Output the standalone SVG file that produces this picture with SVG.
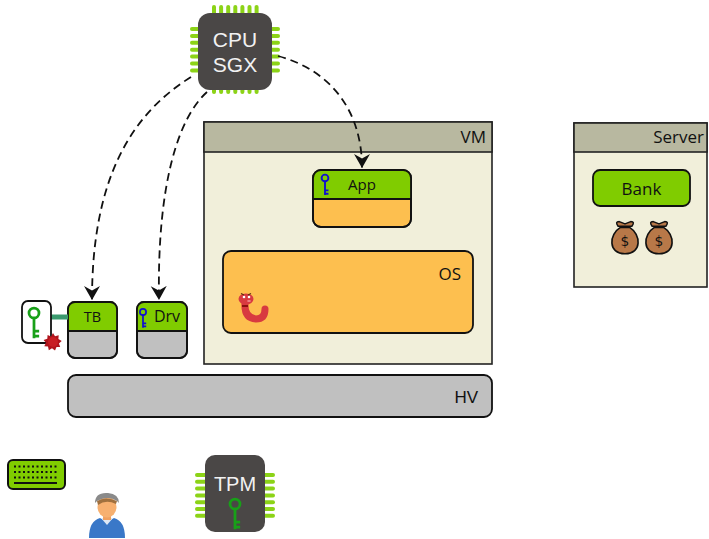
<svg xmlns="http://www.w3.org/2000/svg" width="709" height="539" viewBox="0 0 709 539">
  <style>
    .lbl { font-family: "Open Sans", "DejaVu Sans", sans-serif; fill: #111; }
    .box { stroke: #111; stroke-width: 1.8; }
    .frame { stroke: #222; stroke-width: 1.6; }
    .pin { fill: #8cd317; }
    .chip { fill: #4a4746; }
    .chiptxt { font-family: "Liberation Sans", Arial, sans-serif; fill: #f2f2f2; text-anchor: middle; }
    .conn { fill: none; stroke: #111; stroke-width: 1.8; stroke-dasharray: 8 5; }
  </style>
  <defs>
    <marker id="arrow" markerUnits="userSpaceOnUse" markerWidth="18" markerHeight="18" refX="14" refY="8" orient="auto">
      <path d="M0,0 L14,8 L0,16 L4.5,8 Z" fill="#111"/>
    </marker>
    <!-- key glyph: ring on top, stem with two teeth -->
    <g id="key" fill="none" stroke="currentColor" stroke-width="2.2" stroke-linecap="square">
      <circle cx="0" cy="0" r="4"/>
      <path d="M0,4 V19 M0,14.5 H3 M0,18.5 H3"/>
    </g>
    <rect id="pinV" x="-2" y="0" width="4" height="11" rx="2"/>
    <rect id="pinH" x="0" y="-2" width="12" height="4" rx="2"/>
    <g id="bag">
      <path d="M-6,-12 Q-9,-16 -5,-16 L0,-14 L5,-16 Q9,-16 6,-12 Z" fill="#b87848" stroke="#111" stroke-width="1.3" stroke-linejoin="round"/>
      <path d="M-4,-11 C-14,-5 -15,12 0,12 C15,12 14,-5 4,-11 Z" fill="#b87848" stroke="#111" stroke-width="1.4" stroke-linejoin="round"/>
      <text x="0" y="5.5" text-anchor="middle" font-family="DejaVu Sans, sans-serif" font-size="12" fill="#111">$</text>
    </g>
  </defs>

  <!-- CPU with SGX -->
  <g id="cpu">
    <g class="pin">
      <use href="#pinV" x="214" y="5"/><use href="#pinV" x="221.1" y="5"/><use href="#pinV" x="228.2" y="5"/><use href="#pinV" x="235.3" y="5"/><use href="#pinV" x="242.4" y="5"/><use href="#pinV" x="249.5" y="5"/><use href="#pinV" x="256.6" y="5"/>
      <use href="#pinV" x="214" y="83"/><use href="#pinV" x="221.1" y="83"/><use href="#pinV" x="228.2" y="83"/><use href="#pinV" x="235.3" y="83"/><use href="#pinV" x="242.4" y="83"/><use href="#pinV" x="249.5" y="83"/><use href="#pinV" x="256.6" y="83"/>
      <use href="#pinH" x="190" y="29"/><use href="#pinH" x="190" y="35.9"/><use href="#pinH" x="190" y="42.8"/><use href="#pinH" x="190" y="49.7"/><use href="#pinH" x="190" y="56.6"/><use href="#pinH" x="190" y="63.5"/><use href="#pinH" x="190" y="70.4"/>
      <use href="#pinH" x="268" y="29"/><use href="#pinH" x="268" y="35.9"/><use href="#pinH" x="268" y="42.8"/><use href="#pinH" x="268" y="49.7"/><use href="#pinH" x="268" y="56.6"/><use href="#pinH" x="268" y="63.5"/><use href="#pinH" x="268" y="70.4"/>
    </g>
    <rect class="chip" x="198" y="13" width="74" height="77" rx="12"/>
    <text class="chiptxt" x="235" y="47" font-size="21">CPU</text>
    <text class="chiptxt" x="235" y="72" font-size="21">SGX</text>
  </g>

  <!-- virtual machine -->
  <g id="vm">
    <rect class="frame" x="204" y="122" width="288" height="242" fill="#f1efda"/>
    <rect x="204" y="122" width="288" height="30" fill="#b8b8a0" stroke="#222" stroke-width="1.6"/>
    <text class="lbl" x="486" y="143" font-size="17" text-anchor="end">VM</text>
  </g>

  <g id="app">
    <rect class="box" x="313" y="170" width="98" height="57" rx="8" fill="#fdbf4f"/>
    <path d="M313,199 V178 Q313,170 321,170 H403 Q411,170 411,178 V199 Z" fill="#80cc00"/>
    <line x1="313" y1="199" x2="411" y2="199" stroke="#111" stroke-width="1.8"/>
    <rect x="313" y="170" width="98" height="57" rx="8" fill="none" class="box"/>
    <use href="#key" transform="translate(325 178) scale(0.85)" color="#1010d0"/>
    <text class="lbl" x="362" y="190" font-size="15" text-anchor="middle">App</text>
  </g>

  <g id="os">
    <rect class="box" x="223" y="251" width="250" height="82" rx="8" fill="#fdbf4f"/>
    <text class="lbl" x="461" y="280" font-size="17" text-anchor="end">OS</text>
    <!-- worm -->
    <path d="M245,303 Q244,318 256,319 Q265,319 265,309" fill="none" stroke="#d83a40" stroke-width="7" stroke-linecap="round"/>
    <ellipse cx="246" cy="299" rx="7.5" ry="5.5" fill="#d83a40"/>
    <path d="M242,306 h6" stroke="#8a1010" stroke-width="2"/>
    <circle cx="244" cy="297" r="1.3" fill="#fff"/>
    <circle cx="249" cy="297" r="1.3" fill="#fff"/>
    <path d="M241,293.5 l3,1.5 M251,293.5 l-3,1.5" stroke="#5a2a10" stroke-width="1.2"/>
    <ellipse cx="249" cy="301" rx="2" ry="0.8" fill="#f7a0a0"/>
  </g>

  <g id="hv">
    <rect class="box" x="68" y="375" width="424" height="42" rx="8" fill="#c0c0c0"/>
    <text x="478" y="403" font-family="Liberation Sans, Arial, sans-serif" font-size="17" text-anchor="end" fill="#111">HV</text>
  </g>

  <g id="tb">
    <rect class="box" x="68" y="302" width="49" height="56" rx="7" fill="#c0c0c0"/>
    <path d="M68,331 V309 Q68,302 75,302 H110 Q117,302 117,309 V331 Z" fill="#80cc00"/>
    <line x1="68" y1="331" x2="117" y2="331" stroke="#111" stroke-width="1.8"/>
    <rect class="box" x="68" y="302" width="49" height="56" rx="7" fill="none"/>
    <text class="lbl" x="92.5" y="321.5" font-size="14.5" text-anchor="middle">TB</text>
  </g>

  <g id="drv">
    <rect class="box" x="137" y="302" width="50" height="56" rx="7" fill="#c0c0c0"/>
    <path d="M137,331 V309 Q137,302 144,302 H180 Q187,302 187,309 V331 Z" fill="#80cc00"/>
    <line x1="137" y1="331" x2="187" y2="331" stroke="#111" stroke-width="1.8"/>
    <rect class="box" x="137" y="302" width="50" height="56" rx="7" fill="none"/>
    <use href="#key" transform="translate(143 312) scale(0.78)" color="#1010d0"/>
    <text class="lbl" x="167" y="322" font-size="16" text-anchor="middle">Drv</text>
  </g>

  <g id="sealed-key">
    <rect x="51" y="314.5" width="17" height="5" fill="#3a9a6e"/>
    <rect class="box" x="22" y="301" width="29" height="42" rx="6" fill="#fff"/>
    <use href="#key" transform="translate(34 313) scale(1.25)" color="#18a018"/>
    <path d="M53,333 L55,336.2 L58.7,335.3 L58.4,339 L61.7,341 L58.9,343.5 L60.2,347 L56.5,347 L55,350.5 L52,348.3 L48.8,350.3 L48,346.6 L44.3,346.2 L46,342.8 L43.6,339.9 L47.3,338.8 L47.6,335 L51,336.5 Z" fill="#b0141c"/>
    <circle cx="53" cy="342" r="5" fill="#c81e24"/>
  </g>

  <g id="server">
    <rect class="frame" x="574" y="123" width="133" height="164" fill="#f1efda"/>
    <rect x="574" y="123" width="133" height="29" fill="#b8b8a0" stroke="#222" stroke-width="1.6"/>
    <text class="lbl" x="704" y="143" font-size="17" text-anchor="end">Server</text>
  </g>

  <g id="bank">
    <rect class="box" x="593" y="170" width="97" height="36" rx="7" fill="#80cc00"/>
    <text class="lbl" x="641.5" y="194.5" font-size="17" text-anchor="middle">Bank</text>
    <use href="#bag" transform="translate(625 240) scale(1.15)"/>
    <use href="#bag" transform="translate(659 240) scale(1.15)"/>
  </g>

  <g id="keyboard">
    <rect x="8" y="460" width="57" height="29" rx="5" fill="#80cc00" stroke="#111" stroke-width="2"/>
    <g fill="#111">
      <rect x="14" y="465.5" width="2" height="2"/><rect x="18.5" y="465.5" width="2" height="2"/><rect x="23" y="465.5" width="2" height="2"/><rect x="27.5" y="465.5" width="2" height="2"/><rect x="32" y="465.5" width="2" height="2"/><rect x="36.5" y="465.5" width="2" height="2"/><rect x="41" y="465.5" width="2" height="2"/><rect x="45.5" y="465.5" width="2" height="2"/><rect x="50" y="465.5" width="2" height="2"/><rect x="54.5" y="465.5" width="2" height="2"/>
      <rect x="14" y="471" width="2" height="2"/><rect x="18.5" y="471" width="2" height="2"/><rect x="23" y="471" width="2" height="2"/><rect x="27.5" y="471" width="2" height="2"/><rect x="32" y="471" width="2" height="2"/><rect x="36.5" y="471" width="2" height="2"/><rect x="41" y="471" width="2" height="2"/><rect x="45.5" y="471" width="2" height="2"/><rect x="50" y="471" width="2" height="2"/><rect x="54.5" y="471" width="2" height="2"/>
      <rect x="14" y="476.5" width="2" height="2"/><rect x="18.5" y="476.5" width="2" height="2"/><rect x="23" y="476.5" width="2" height="2"/><rect x="27.5" y="476.5" width="2" height="2"/><rect x="32" y="476.5" width="2" height="2"/><rect x="36.5" y="476.5" width="2" height="2"/><rect x="41" y="476.5" width="2" height="2"/><rect x="45.5" y="476.5" width="2" height="2"/><rect x="50" y="476.5" width="2" height="2"/><rect x="54.5" y="476.5" width="2" height="2"/>
      <rect x="14" y="482" width="43" height="2"/>
    </g>
  </g>

  <g id="user">
    <path d="M89,538 Q89,521 100,518 L107,522 L114,518 Q125,521 125,538 Z" fill="#3a78c8"/>
    <path d="M101,518 L107,525 L113,518" fill="#dfe8f4"/>
    <rect x="103" y="513" width="8" height="7" fill="#f0a060"/>
    <ellipse cx="107" cy="507" rx="9.5" ry="10.5" fill="#f7b070"/>
    <path d="M95,503 Q95,492 108,493 Q119,494 119,503 L117,501 Q108,495 97,501 Z" fill="#8a8a8a"/>
    <path d="M97,501 Q106,496 117,501 L116,504 Q106,499 98,505 Z" fill="#a0703e"/>
  </g>

  <!-- TPM -->
  <g id="tpm">
    <g class="pin">
      <use href="#pinH" x="195" y="475"/><use href="#pinH" x="195" y="481.8"/><use href="#pinH" x="195" y="488.6"/><use href="#pinH" x="195" y="495.4"/><use href="#pinH" x="195" y="502.2"/><use href="#pinH" x="195" y="509"/><use href="#pinH" x="195" y="515.8"/>
      <use href="#pinH" x="263" y="475"/><use href="#pinH" x="263" y="481.8"/><use href="#pinH" x="263" y="488.6"/><use href="#pinH" x="263" y="495.4"/><use href="#pinH" x="263" y="502.2"/><use href="#pinH" x="263" y="509"/><use href="#pinH" x="263" y="515.8"/>
    </g>
    <rect class="chip" x="205" y="455" width="60" height="77" rx="10"/>
    <text class="chiptxt" x="235" y="491" font-size="20">TPM</text>
    <use href="#key" transform="translate(235 504) scale(1.25)" color="#18a018"/>
  </g>

  <!-- dashed arrows from the CPU -->
  <g id="connectors">
    <path class="conn" d="M191,77 C130,115 92,180 92,300" marker-end="url(#arrow)"/>
    <path class="conn" d="M207,92 C178,118 157,185 159,300" marker-end="url(#arrow)"/>
    <path class="conn" d="M278,56 C330,70 362,110 362,168" marker-end="url(#arrow)"/>
  </g>
</svg>
